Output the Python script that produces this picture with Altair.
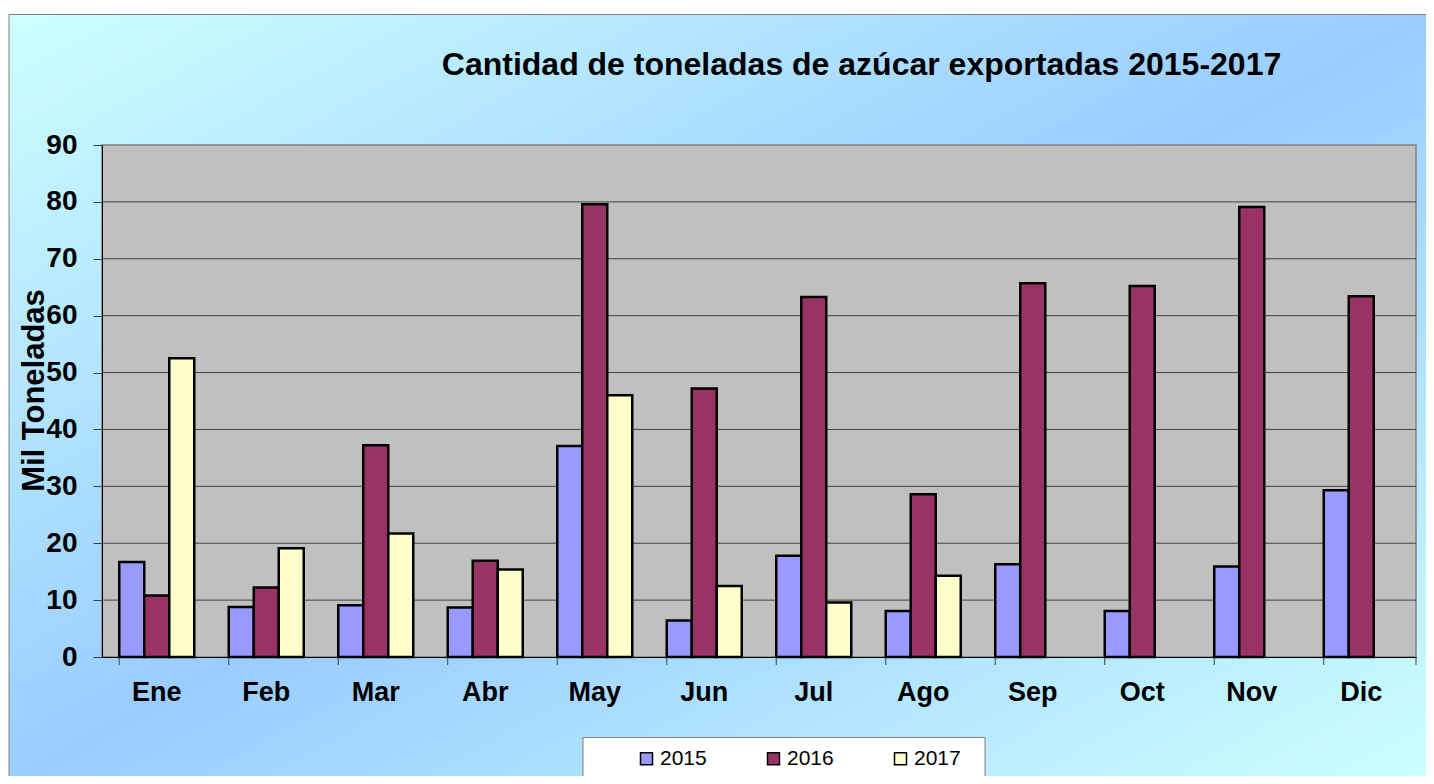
import altair as alt
import pandas as pd

meses = ["Ene", "Feb", "Mar", "Abr", "May", "Jun", "Jul", "Ago", "Sep", "Oct", "Nov", "Dic"]
anios = ["2015", "2016", "2017"]
v2015 = [16.7, 8.8, 9.1, 8.7, 37.1, 6.4, 17.8, 8.1, 16.3, 8.1, 15.9, 29.3]
v2016 = [10.8, 12.2, 37.2, 16.9, 79.6, 47.2, 63.3, 28.6, 65.7, 65.2, 79.1, 63.4]
v2017 = [52.5, 19.1, 21.7, 15.4, 46.0, 12.5, 9.6, 14.3, None, None, None, None]
colores = ["#9999FF", "#993366", "#FFFFCC"]
ticks_y = [0, 10, 20, 30, 40, 50, 60, 70, 80, 90]
grid_y = [10, 20, 30, 40, 50, 60, 70, 80]
titulo = "Cantidad de toneladas de azúcar exportadas 2015-2017"

FONT = "Liberation Sans"
W, H = 1314, 512

rows = []
for serie, anio in zip([v2015, v2016, v2017], anios):
    for m, v in zip(meses, serie):
        if v is not None:
            rows.append({"mes": m, "anio": anio, "valor": v})
df = pd.DataFrame(rows)
one = pd.DataFrame({"k": [0]})
grid_df = pd.DataFrame({"g": grid_y})
mes_df = pd.DataFrame({"mes": meses})

yscale = alt.Scale(domain=[0, 90], nice=False, zero=True)
xscale = alt.Scale(domain=meses, paddingInner=0.315, paddingOuter=0.1575)

yaxis = alt.Axis(values=ticks_y, grid=False, labelFont=FONT, labelFontSize=28,
                 labelFontWeight="bold", labelColor="black", labelPadding=16,
                 tickSize=9, tickColor="#404040", domainColor="black", domainWidth=1,
                 title="Mil Toneladas", titleFont=FONT, titleFontSize=31,
                 titleFontWeight="bold", titleColor="black", titleX=-59, titleY=245,
                 titleAngle=-90, titleAlign="center", titleBaseline="alphabetic", zindex=1)
xaxis = alt.Axis(labelAngle=0, labelFont=FONT, labelFontSize=27, labelFontWeight="bold",
                 labelColor="black", labelBaseline="alphabetic", labelPadding=43,
                 ticks=False, tickSize=0, domainColor="black", domainWidth=1,
                 title=None, grid=False, zindex=1)

grad = alt.LinearGradient(
    gradient="linear",
    stops=[alt.GradientStop(color="#CCFFFF", offset=0),
           alt.GradientStop(color="#9ACCFF", offset=0.5),
           alt.GradientStop(color="#CCFFFF", offset=1)],
    x1=0, y1=0, x2=1, y2=1)

bg = alt.Chart(one).mark_rect(fill=grad, stroke="#808080", strokeWidth=1).encode(
    x=alt.value(-93), x2=alt.value(1330), y=alt.value(-130.5), y2=alt.value(640))

title_mark = alt.Chart(one).mark_text(
    text=titulo, font=FONT, fontSize=32, fontWeight="bold", color="black",
    align="center", baseline="alphabetic").encode(
    x=alt.value(759.5), y=alt.value(-70))

plot_bg = alt.Chart(one).mark_rect(fill="#C0C0C0", stroke="#808080", strokeWidth=1.5).encode(
    x=alt.value(0), x2=alt.value(W), y=alt.value(0), y2=alt.value(H))

legend_box = alt.Chart(one).mark_rect(fill="white", stroke="#808080", strokeWidth=1).encode(
    x=alt.value(481), x2=alt.value(883), y=alt.value(592.5), y2=alt.value(634.5))

grid = alt.Chart(grid_df).mark_rule(color="#404040", strokeWidth=1).encode(
    y=alt.Y("g:Q", scale=yscale, axis=yaxis))

bars = alt.Chart(df).mark_bar(stroke="black", strokeWidth=2.5).encode(
    x=alt.X("mes:N", sort=meses, scale=xscale, axis=xaxis),
    xOffset=alt.XOffset("anio:N", scale=alt.Scale(domain=anios, paddingInner=0, paddingOuter=0)),
    y=alt.Y("valor:Q", scale=yscale, axis=yaxis),
    color=alt.Color("anio:N", scale=alt.Scale(domain=anios, range=colores),
                    legend=alt.Legend(orient="none", legendX=534, legendY=603,
                                      direction="horizontal", title=None,
                                      symbolType="square", symbolSize=144,
                                      symbolStrokeColor="black", symbolStrokeWidth=1.5,
                                      labelFont=FONT, labelFontSize=21, labelColor="black",
                                      labelOffset=3, columnPadding=56, padding=0)),
)

xticks = alt.Chart(mes_df).mark_rule(color="#404040", strokeWidth=1).encode(
    x=alt.X("mes:N", sort=meses, scale=xscale, axis=xaxis, bandPosition=0),
    y=alt.value(H), y2=alt.value(H + 8))

xtick_end = alt.Chart(one).mark_rule(color="#404040", strokeWidth=1).encode(
    x=alt.value(W), y=alt.value(H), y2=alt.value(H + 8))

chart = alt.layer(bg, title_mark, plot_bg, legend_box, grid, bars, xticks, xtick_end).properties(
    width=W, height=H,
    autosize=alt.AutoSizeParams(type="none"),
    padding={"left": 94, "top": 137, "right": 10, "bottom": 119},
    background="white",
).configure_view(stroke=None)

chart.save("out.html", embed_options={"renderer": "svg", "actions": False})
